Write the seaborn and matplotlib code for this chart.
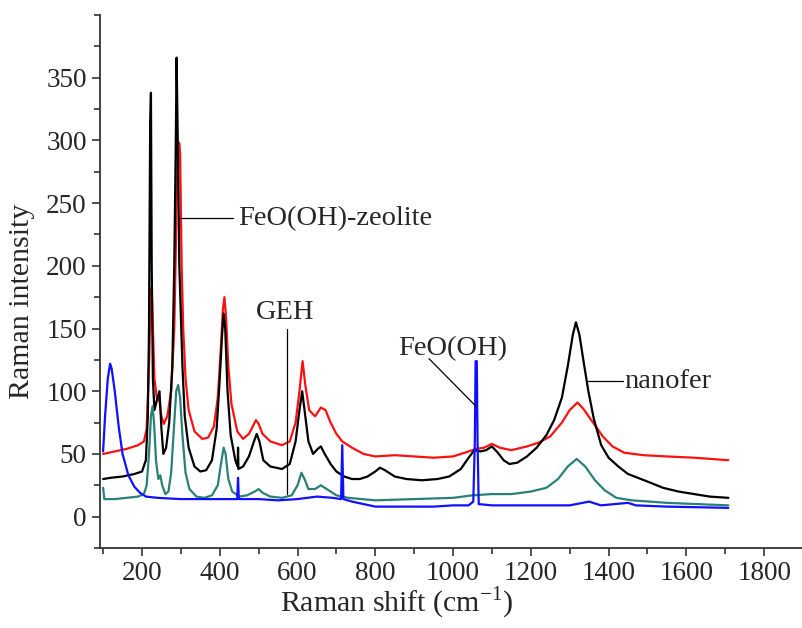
import matplotlib
matplotlib.use('Agg')
import matplotlib.pyplot as plt
import seaborn as sns
from matplotlib.ticker import MultipleLocator, FixedLocator

# spectra (Raman shift, intensity)
black_x = [100, 120, 150, 180, 200, 210, 215, 218, 221, 223, 225, 228, 232, 240, 245, 250, 255, 262, 270, 278,
           283, 287, 289, 292, 296, 300, 304, 310, 320, 335, 350, 365, 380, 392, 400, 406, 410, 414, 420, 428,
           440, 446, 447, 448, 460, 475, 488, 495, 502, 512, 530, 560, 580, 595, 605, 612, 618, 628, 640, 652,
           660, 670, 685, 700, 720, 740, 760, 780, 800, 812, 825, 850, 880, 920, 960, 990, 1020, 1040, 1055, 1070,
           1085, 1100, 1115, 1130, 1145, 1165, 1190, 1215, 1240, 1260, 1280, 1295, 1308, 1316, 1325, 1335, 1348,
           1362, 1381, 1400, 1425, 1450, 1500, 1540, 1580, 1620, 1660, 1708]
black_y = [30, 31, 32, 34, 36, 45, 80, 150, 312, 338, 200, 110, 85, 95, 100, 70, 50, 55, 75, 120,
           200, 300, 366, 300, 200, 160, 120, 80, 55, 40, 36, 37, 45, 70, 110, 145, 162, 150, 100, 65,
           45, 40, 55, 38, 40, 48, 60, 66, 60, 45, 40, 38, 42, 60, 85, 100, 85, 60, 50, 54,
           56, 50, 42, 36, 32, 30, 30, 32, 36, 39, 37, 32, 30, 29, 30, 32, 38, 47, 53, 52,
           53, 56, 51, 45, 42, 43, 48, 55, 65, 77, 95, 120, 145, 155, 145, 125, 100,
           78, 57, 47, 40, 34, 28, 23, 20, 18, 16, 15]

red_x = [100, 130, 160, 190, 205, 212, 218, 222, 225, 228, 232, 238, 245, 250, 256, 265, 275, 283, 288, 291,
         293, 296, 298, 302, 306, 312, 320, 335, 355, 370, 385, 395, 402, 408, 412, 416, 422, 430, 445, 460,
         475, 485, 493, 500, 510, 530, 560, 580, 595, 605, 613, 620, 630, 645, 660, 672, 685, 700, 715, 740,
         770, 800, 850, 900, 950, 1000, 1030, 1060, 1080, 1100, 1120, 1150, 1190, 1220, 1250, 1280, 1300, 1320,
         1335, 1360, 1385, 1410, 1440, 1490, 1550, 1620, 1708]
red_y = [50, 52, 54, 57, 60, 70, 120, 170, 183, 150, 110, 95, 92, 80, 74, 80, 100, 150, 230, 290,
         298, 298, 290, 200, 150, 110, 85, 68, 62, 63, 72, 95, 130, 165, 175, 160, 120, 90, 68, 62,
         66, 72, 77, 74, 66, 60, 57, 60, 75, 100, 124, 105, 85, 80, 87, 85, 75, 66, 60, 55,
         50, 48, 49, 48, 47, 48, 51, 54, 55, 58, 55, 53, 56, 59, 64, 75, 85, 91,
         86, 75, 64, 56, 51, 49, 48, 47, 45]

teal_x = [100, 103, 130, 160, 190, 205, 212, 218, 223, 227, 231, 236, 242, 247, 252, 260, 268, 275, 282, 288,
          293, 298, 304, 312, 322, 340, 360, 380, 395, 403, 410, 415, 422, 432, 450, 470, 490, 500, 510, 530,
          560, 585, 600, 610, 618, 628, 645, 660, 675, 700, 730, 800, 900, 1000, 1050, 1100, 1150, 1200, 1240,
          1270, 1295, 1318, 1340, 1365, 1390, 1420, 1460, 1550, 1708]
teal_y = [23, 14, 14, 15, 16, 18, 25, 50, 80, 88, 75, 45, 30, 33, 25, 18, 20, 35, 70, 100,
          105, 95, 65, 35, 22, 16, 15, 17, 25, 42, 55, 50, 30, 20, 16, 17, 20, 22, 19, 16,
          15, 17, 25, 35, 30, 22, 22, 25, 22, 17, 15, 13, 14, 15, 17, 18, 18, 20, 23,
          30, 40, 46, 40, 29, 21, 15, 13, 11, 9]

blue_x = [100, 105, 112, 118, 122, 130, 140, 150, 165, 180, 195, 210, 240, 300, 350, 420, 445, 447, 449, 500,
          550, 600, 650, 690, 712, 715, 718, 740, 770, 800, 850, 900, 950, 1000, 1040, 1052, 1056, 1058, 1061,
          1063, 1066, 1100, 1200, 1300, 1350, 1380, 1450, 1470, 1550, 1708]
blue_y = [52, 80, 110, 122, 118, 100, 72, 50, 33, 24, 19, 16, 15, 14, 14, 14, 14, 31, 14, 14,
          13, 14, 16, 15, 14, 57, 14, 12, 10, 8, 8, 8, 8, 9, 9, 12, 60, 124, 124,
          60, 10, 9, 9, 9, 12, 9, 11, 9, 8, 7]

series = [
    (red_x, red_y, '#ff1010'),
    (black_x, black_y, '#000000'),
    (teal_x, teal_y, '#2a8077'),
    (blue_x, blue_y, '#1010ff'),
]

# leader lines and labels
labels = [
    ('FeO(OH)-zeolite', (446, 238), 'left', [(296, 238), (435, 238)]),
    ('GEH', (569, 163), 'center', [(574, 150), (574, 18)]),
    ('FeO(OH)', (998, 134), 'center', [(938, 126), (1059, 88)]),
    ('nanofer', (1440, 108), 'left', [(1348, 108), (1438, 108)]),
]

sns.set_style('ticks')
plt.rcParams['font.family'] = ['Liberation Serif', 'DejaVu Serif']
plt.rcParams['mathtext.fontset'] = 'custom'
plt.rcParams['mathtext.rm'] = 'Liberation Serif'

fig = plt.figure(figsize=(8.03, 6.28), dpi=100)
ax = fig.add_axes([100/803, 80/628, 703/803, 533/628])

for x, y, c in series:
    sns.lineplot(x=x, y=y, color=c, lw=1.6, ax=ax, sort=False, estimator=None)

for txt, pos, ha, line in labels:
    ax.plot([line[0][0], line[1][0]], [line[0][1], line[1][1]], color='black', lw=0.9)
    ax.text(pos[0], pos[1], txt, ha=ha, va='center', fontsize=20.5)

ax.set_xlim(92, 1900)
ax.set_ylim(-25, 400)
ax.xaxis.set_major_locator(FixedLocator(list(range(200, 1801, 200))))
ax.xaxis.set_minor_locator(MultipleLocator(100))
ax.yaxis.set_major_locator(FixedLocator(list(range(0, 351, 50))))
ax.yaxis.set_minor_locator(MultipleLocator(25))
ax.tick_params(axis='both', which='major', labelsize=19.5, length=6, width=1.2, color='#333333')
ax.tick_params(axis='both', which='minor', length=4, width=1.2, color='#333333')

sns.despine(ax=ax)
for s in ['left', 'bottom']:
    ax.spines[s].set_linewidth(1.3)
    ax.spines[s].set_color('#333333')

ax.set_xlabel(r'Raman shift (cm$^{\mathregular{-1}}$)', fontsize=21.5)
ax.set_ylabel('Raman intensity', fontsize=21.5)
ax.xaxis.label.set_va('center')
ax.yaxis.label.set_va('center')
ax.xaxis.set_label_coords(0.422, -0.103)
ax.yaxis.set_label_coords(-0.111, 0.463)

fig.savefig('out.png', dpi=100)
